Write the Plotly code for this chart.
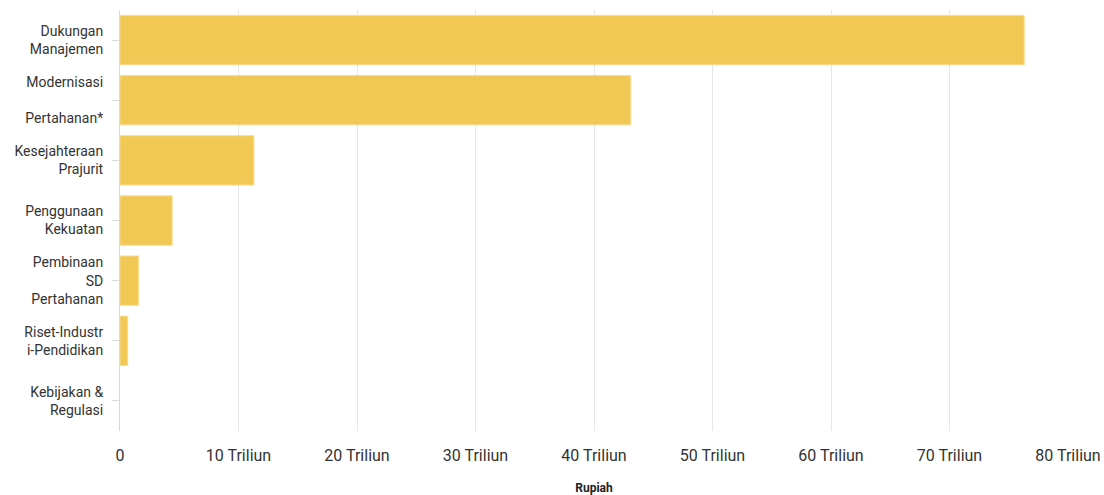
import plotly.graph_objects as go

categories = [
    "Dukungan<br>Manajemen",
    "Modernisasi<br><br>Pertahanan*",
    "Kesejahteraan<br>Prajurit",
    "Penggunaan<br>Kekuatan",
    "Pembinaan<br>SD<br>Pertahanan",
    "Riset-Industr<br>i-Pendidikan",
    "Kebijakan &<br>Regulasi",
]
values = [76.3, 43.1, 11.3, 4.4, 1.55, 0.65, 0.0]  # Triliun Rupiah
tick_vals = [0, 10, 20, 30, 40, 50, 60, 70, 80]
tick_text = ["0", "10 Triliun", "20 Triliun", "30 Triliun", "40 Triliun",
             "50 Triliun", "60 Triliun", "70 Triliun", "80 Triliun"]

fig = go.Figure(go.Bar(
    x=values,
    y=categories,
    orientation="h",
    marker=dict(
        color="#F1C853",
        line=dict(color="#F8DC8C", width=[1 if v > 0 else 0 for v in values]),
    ),
    hoverinfo="x+y",
))

fig.update_layout(
    width=1104, height=495,
    margin=dict(l=120, r=36, t=10, b=64),
    paper_bgcolor="white", plot_bgcolor="white",
    bargap=0.18,
    font=dict(family="Roboto, sans-serif", color="#333333"),
    showlegend=False,
)
fig.update_xaxes(
    range=[0, 80],
    automargin=False,
    tickvals=tick_vals, ticktext=tick_text,
    tickfont=dict(size=16, color="#333333"),
    showgrid=True, gridcolor="#E6E6E6", gridwidth=1,
    zeroline=False, showline=False,
    ticks="outside", ticklen=10, tickcolor="rgba(0,0,0,0)",
    title=dict(text="<b>Rupiah</b>", font=dict(size=12, color="#222222"), standoff=20),
)
fig.update_yaxes(
    categoryorder="array", categoryarray=categories,
    autorange="reversed",
    automargin=False,
    tickfont=dict(size=14, color="#333333"),
    showgrid=False, zeroline=False,
    showline=True, linecolor="#D9D9D9", linewidth=1,
    ticks="outside", ticklen=7, tickcolor="#D9D9D9",
    ticklabelstandoff=6,
)

fig.write_html(
    "out.html",
    config={"displayModeBar": False},
    post_script="document.body.style.margin='0';document.body.style.overflow='hidden';",
)
